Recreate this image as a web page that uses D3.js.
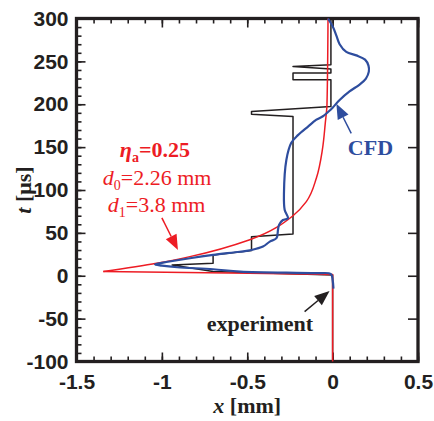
<!DOCTYPE html>
<meta charset="utf-8">
<style>
  body { margin: 0; background: #fff; }
  svg { font-family: "Liberation Serif", "Times New Roman", serif; }
  .tick text { font-size: 21px; font-weight: bold; fill: #231f20; }
  .tick line { stroke: #231f20; stroke-width: 1.6px; }
  .domain { display: none; }
  .frame { fill: none; stroke: #231f20; stroke-width: 3.3px; }
  .curve { fill: none; stroke-linejoin: round; }
</style>
<svg width="434" height="421"></svg>
<script src="https://d3js.org/d3.v7.min.js"></script>
<script>

  // tick labels
  var xTicks = [-1.5, -1, -0.5, 0, 0.5];
  var yTicks = [-100, -50, 0, 50, 100, 150, 200, 250, 300];

  // experiment (black step trace)
  var expX = [0, 0, -0.70, -0.94, -0.70, -0.70, -0.475, -0.475, -0.232, -0.232, -0.232, -0.475, -0.475, -0.01, -0.01, -0.232, -0.232, -0.01, -0.01, -0.232, -0.01, -0.01];
  var expT = [-100, 1, 5, 12.5, 14.5, 24.3, 29.3, 45.6, 48.8, 185.6, 185.6, 188.4, 191.5, 197.3, 228.5, 228.5, 236.3, 236.3, 241, 244, 246, 300];

  // model, eta_a = 0.25 (red): lower edge then upper branch from the tip
  var modelLowX = [0, 0, -0.49, -1.343];
  var modelLowT = [-100, 1.5, 3, 5];
  var modelUpX = [-1.343, -1.031, -0.836, -0.485, -0.232, -0.154, -0.095, -0.060, -0.043, -0.033, -0.027];
  var modelUpT = [5, 14.6, 22.3, 42, 70, 86.5, 114, 147, 178, 200, 300];

  // CFD (blue)
  var cfdX = [0.005, 0.0, -0.01, -0.1, -0.54, -0.70, -0.91, -1.0, -1.04, -1.0, -0.836, -0.70, -0.544, -0.475, -0.408, -0.368, -0.329, -0.32, -0.314, -0.291, -0.262, -0.281, -0.285, -0.271, -0.242, -0.203, -0.144, -0.095, -0.057, -0.027, 0.0, 0.041, 0.099, 0.158, 0.195, 0.212, 0.21, 0.19, 0.139, 0.080, 0.041, 0.022, 0.002, -0.027];
  var cfdT = [-15, -5, 2, 3, 4.8, 7.6, 9.9, 11.8, 13.2, 15, 20.4, 24.3, 28, 30, 34, 39.8, 43.8, 53.5, 59.3, 65, 67, 77, 96, 135, 155, 164, 174, 182, 186, 191, 196, 205, 215, 223, 230, 238, 245, 252, 257, 261, 270, 280, 290, 300];

  var svg = d3.select("svg");
  var x = d3.scaleLinear().domain([-1.5, 0.5]).range([76.5, 418]);
  var y = d3.scaleLinear().domain([-100, 300]).range([361.5, 18.5]);

  var xMinor = d3.range(-1.5, 0.51, 0.1).map(function(v) { return +v.toFixed(1); });
  var yMinor = d3.range(-100, 301, 10);

  // minor ticks
  svg.append("g").attr("transform", "translate(0," + y(-100) + ")")
    .call(d3.axisBottom(x).tickValues(xMinor).tickSize(-5).tickFormat(""));
  svg.append("g").attr("transform", "translate(0," + y(300) + ")")
    .call(d3.axisTop(x).tickValues(xMinor).tickSize(-5).tickFormat(""));
  svg.append("g").attr("transform", "translate(" + x(-1.5) + ",0)")
    .call(d3.axisLeft(y).tickValues(yMinor).tickSize(-5).tickFormat(""));

  // major ticks
  svg.append("g").attr("transform", "translate(0," + y(-100) + ")")
    .call(d3.axisBottom(x).tickValues(xTicks).tickSize(-9).tickPadding(13).tickFormat(String));
  svg.append("g").attr("transform", "translate(0," + y(300) + ")")
    .call(d3.axisTop(x).tickValues(xTicks).tickSize(-9).tickFormat(""));
  svg.append("g").attr("transform", "translate(" + x(-1.5) + ",0)")
    .call(d3.axisLeft(y).tickValues(yTicks).tickSize(-9).tickPadding(8).tickFormat(String));
  svg.append("g").attr("transform", "translate(" + x(0.5) + ",0)")
    .call(d3.axisRight(y).tickValues(yTicks).tickSize(-10).tickFormat(""));

  svg.append("rect").attr("class", "frame")
    .attr("x", x(-1.5)).attr("y", y(300))
    .attr("width", x(0.5) - x(-1.5)).attr("height", y(-100) - y(300));

  function pts(xs, ts) { return xs.map(function(v, i) { return [v, ts[i]]; }); }
  var lineLin = d3.line().x(function(d) { return x(d[0]); }).y(function(d) { return y(d[1]); });
  var lineMono = d3.line().x(function(d) { return x(d[0]); }).y(function(d) { return y(d[1]); }).curve(d3.curveMonotoneY);
  var lineSmooth = d3.line().x(function(d) { return x(d[0]); }).y(function(d) { return y(d[1]); }).curve(d3.curveCatmullRom.alpha(0.5));

  svg.append("path").attr("class", "curve").attr("d", lineLin(pts(expX, expT)))
    .attr("stroke", "#231f20").attr("stroke-width", 1.5);
  svg.append("path").attr("class", "curve").attr("d", lineLin(pts(modelLowX, modelLowT)))
    .attr("stroke", "#ed1c24").attr("stroke-width", 1.5);
  svg.append("path").attr("class", "curve").attr("d", lineMono(pts(modelUpX, modelUpT)))
    .attr("stroke", "#ed1c24").attr("stroke-width", 1.5);
  svg.append("path").attr("class", "curve").attr("d", lineSmooth(pts(cfdX, cfdT)))
    .attr("stroke", "#2e4d9e").attr("stroke-width", 2.2);

  // arrows, given in data units
  function arrow(x0, t0, x1, t1, color) {
    var ax = x(x0), ay = y(t0), bx = x(x1), by = y(t1);
    var dx = bx - ax, dy = by - ay, L = Math.sqrt(dx * dx + dy * dy);
    var ux = dx / L, uy = dy / L, hl = 15, hw = 6;
    var cx = bx - ux * hl, cy = by - uy * hl;
    svg.append("line").attr("x1", ax).attr("y1", ay).attr("x2", cx).attr("y2", cy)
      .attr("stroke", color).attr("stroke-width", 1.5);
    svg.append("path").attr("fill", color)
      .attr("d", "M" + bx + "," + by + "L" + (cx - uy * hw) + "," + (cy + ux * hw) + "L" + (cx + uy * hw) + "," + (cy - ux * hw) + "Z");
  }
  arrow(-1.0, 67.4, -0.906, 30.1, "#ed1c24");
  arrow(0.109, 166, 0.022, 200.5, "#2e4d9e");
  arrow(-0.164, -41.9, -0.018, -17.7, "#231f20");

  // annotation text
  var red = "#ed1c24";
  var t1 = svg.append("text").attr("x", x(-1.041)).attr("y", y(139)).attr("text-anchor", "middle")
    .attr("fill", red).attr("font-size", 22).attr("font-weight", "bold");
  t1.append("tspan").attr("font-style", "italic").text("η");
  t1.append("tspan").attr("font-size", 14).attr("dy", 5).text("a");
  t1.append("tspan").attr("dy", -5).text("=0.25");

  var t2 = svg.append("text").attr("x", x(-1.028)).attr("y", y(106)).attr("text-anchor", "middle")
    .attr("fill", red).attr("font-size", 22);
  t2.append("tspan").attr("font-style", "italic").text("d");
  t2.append("tspan").attr("font-size", 14).attr("dy", 5).text("0");
  t2.append("tspan").attr("dy", -5).text("=2.26 mm");

  var t3 = svg.append("text").attr("x", x(-1.031)).attr("y", y(74.8)).attr("text-anchor", "middle")
    .attr("fill", red).attr("font-size", 22);
  t3.append("tspan").attr("font-style", "italic").text("d");
  t3.append("tspan").attr("font-size", 14).attr("dy", 5).text("1");
  t3.append("tspan").attr("dy", -5).text("=3.8 mm");

  svg.append("text").attr("x", x(0.089)).attr("y", y(141))
    .attr("fill", "#2e4d9e").attr("font-size", 22).attr("font-weight", "bold").text("CFD");

  svg.append("text").attr("x", x(-0.737)).attr("y", y(-65))
    .attr("fill", "#231f20").attr("font-size", 22).attr("font-weight", "bold").text("experiment");

  // axis titles
  var xt = svg.append("text").attr("x", (x(-1.5) + x(0.5)) / 2).attr("y", 413).attr("text-anchor", "middle")
    .attr("fill", "#231f20").attr("font-size", 22).attr("font-weight", "bold");
  xt.append("tspan").attr("font-style", "italic").text("x");
  xt.append("tspan").text(" [mm]");

  var yt = svg.append("text").attr("transform", "translate(31," + (y(-100) + y(300)) / 2 + ") rotate(-90)")
    .attr("text-anchor", "middle").attr("fill", "#231f20").attr("font-size", 22).attr("font-weight", "bold");
  yt.append("tspan").attr("font-style", "italic").text("t");
  yt.append("tspan").text(" [μs]");

</script>
